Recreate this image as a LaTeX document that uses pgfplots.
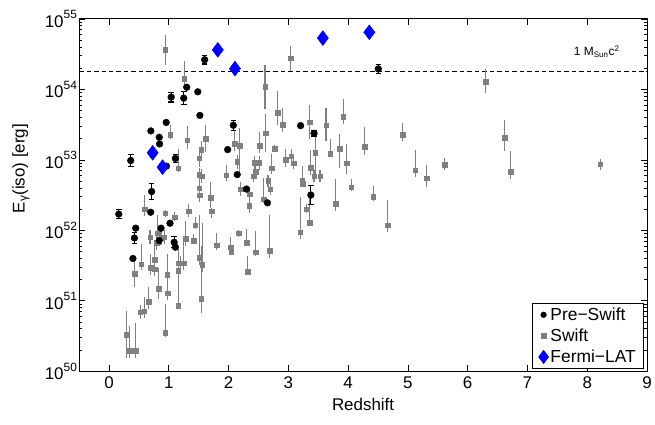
\documentclass[border=0pt]{standalone}
\usepackage{fontspec}
\setmainfont{Liberation Sans}
\usepackage{pgfplots}
\usepackage{pgfplotstable}
\pgfplotsset{compat=1.18}

\newcommand{\tp}[1]{10\raisebox{0.5em}{\fontsize{12}{12}\selectfont #1}}

% z, log10(E), error up/down in dex
\pgfplotstableread{
z     ly      ep    em
1.60  54.42   0.06  0.06
1.30  54.03   0     0
1.485 53.965  0     0
1.04  53.89   0.07  0.07
1.25  53.875  0.09  0.09
1.52  53.63   0     0
0.957 53.53   0     0
0.70  53.41   0     0
0.84  53.32   0     0
0.846 53.225  0     0
0.363 52.99   0.08  0.08
1.11  53.02   0.06  0.06
0.96  52.91   0     0
0.713 52.55   0.11  0.11
1.985 53.145  0     0
2.08  53.49   0.07  0.07
2.145 52.79   0     0
2.30  52.585  0     0
3.205 53.485  0     0
3.43  53.376  0.04  0.04
3.377 52.50   0.13  0.13
4.505 54.29   0.06  0.06
2.65  52.39   0     0
0.163 52.23   0.06  0.06
0.697 52.256  0     0
0.447 52.03   0     0
0.425 51.89   0.08  0.08
0.40  51.60   0     0
1.02  52.10   0     0
0.87  52.03   0     0
0.84  51.855  0     0
1.09  51.83   0.08  0.08
1.11  51.76   0     0
}\preswift

\pgfplotstableread{
z     ly      ep    em
0.94  54.56   0.21  0.21
1.26  54.15   0.25  0.15
2.61  54.035  0.31  0.32
3.04  54.44   0.17  0.18
1.025 53.36   0.14  0.07
1.31  53.28   0.20  0.13
1.62  53.30   0.19  0.19
1.545 53.14   0.12  0.12
1.51  53.02   0.12  0.12
1.51  52.79   0.10  0.10
1.55  52.77   0.10  0.10
1.51  52.60   0.15  0.05
1.52  52.50   0.10  0.10
1.70  52.46   0.22  0.15
1.72  52.27   0.05  0.10
1.33  52.27   0.10  0.08
1.16  52.88   0.27  0.05
0.94  52.24   0.05  0.05
1.10  52.185  0.08  0.05
0.60  52.30   0.20  0.10
2.10  53.23   0.20  0.10
2.19  53.20   0.25  0.40
2.145 52.975  0.10  0.10
1.96  52.78   0.15  0.08
2.20  52.585  0.10  0.10
2.355 52.51   0.10  0.10
2.345 52.35   0.10  0.10
2.43  52.96   0.10  0.10
2.51  52.96   0.10  0.10
2.45  52.83   0.08  0.08
2.42  52.77   0.08  0.08
2.52  53.20   0.20  0.10
2.72  52.88   0.20  0.08
2.66  52.70   0.08  0.08
2.70  52.585  0.08  0.08
2.59  52.44   0.30  0.05
2.62  53.376  0.27  0.27
2.77  53.16   0.05  0.05
2.823 53.67   0.30  0.17
2.906 53.50   0.23  0.10
2.96  53.00   0.15  0.10
3.05  53.05   0.10  0.10
3.09  52.95   0.08  0.08
3.23  52.71   0.20  0.07
3.24  52.66   0.05  0.05
3.20  51.97   0.50  0.10
3.355 52.11   0.35  0.05
3.31  52.30   0.08  0.05
3.37  52.89   0.25  0.10
3.45  53.10   0.30  0.33
3.43  52.77   0.08  0.08
3.53  52.77   0.08  0.08
3.355 53.535  0.24  0.24
3.63  53.49   0.24  0.22
3.70  53.09   0.20  0.05
3.855 53.16   0.20  0.27
3.92  53.61   0.25  0.10
3.98  52.95   0.27  0.15
4.055 52.61   0.12  0.05
3.79  52.38   0.35  0.10
4.28  53.19   0.27  0.12
4.42  52.48   0.15  0.06
4.66  52.07   0.36  0.10
4.91  53.36   0.16  0.09
5.12  52.85   0.29  0.10
5.315 52.74   0.18  0.12
5.615 52.93   0.10  0.08
6.30  54.11   0.18  0.16
6.615 53.31   0.25  0.18
6.72  52.83   0.29  0.10
8.22  52.94   0.07  0.08
2.17  51.96   0.05  0.05
2.30  51.82   0.20  0.05
2.035 51.76   0.15  0.05
2.045 51.70   0.05  0.05
2.32  51.41   0.23  0.05
2.45  51.69   0.30  0.05
2.685 51.71   0.50  0.10
1.80  51.79   0.17  0.07
1.44  52.07   0.12  0.05
1.42  51.85   0.10  0.05
1.285 51.88   0.25  0.10
1.51  51.61   0.60  0.10
1.56  51.51   0.60  0.10
1.545 51.03   0.75  0.20
1.16  51.53   0.20  0.10
1.20  51.53   0.10  0.10
1.245 51.53   0.30  0.10
1.16  51.43   0.15  0.10
1.16  50.93   0.40  0.05
0.686 51.90   0.10  0.10
0.81  51.96   0.25  0.10
0.87  51.89   0.10  0.10
0.925 51.90   0.10  0.10
0.80  51.82   0.10  0.10
0.54  51.52   0.28  0.08
0.425 51.38   0.25  0.19
0.70  51.47   0.20  0.10
0.76  51.445  0.20  0.10
0.76  51.58   0.20  0.10
0.83  51.17   0.30  0.15
0.975 51.37   0.30  0.10
0.98  51.11   0.20  0.10
0.66  50.99   0.20  0.10
0.59  50.85   0.20  0.10
0.52  50.84   0.10  0.10
0.94  50.55   0.40  0.06
0.30  50.52   0.33  0.33
0.345 50.29   0.35  0.10
0.445 50.29   0.40  0.10
}\swift

\pgfplotstableread{
z     ly
1.82  54.56
2.107 54.294
3.577 54.727
4.355 54.81
0.73  53.10
0.896 52.896
}\fermi

\definecolor{swiftgray}{rgb}{0.5,0.5,0.5}

\begin{document}
\begin{tikzpicture}
\begin{axis}[
  name=main,
  scale only axis,
  width=570.5pt, height=354pt,
  ymode=log,
  xmin=-0.5, xmax=9,
  ymin=1e50, ymax=1e55,
  xtick={0,...,9},
  ytick={1e50,1e51,1e52,1e53,1e54,1e55},
  yticklabels={\tp{50},\tp{51},\tp{52},\tp{53},\tp{54},\tp{55}},
  minor ytick={2e50,3e50,4e50,5e50,6e50,7e50,8e50,9e50,
               2e51,3e51,4e51,5e51,6e51,7e51,8e51,9e51,
               2e52,3e52,4e52,5e52,6e52,7e52,8e52,9e52,
               2e53,3e53,4e53,5e53,6e53,7e53,8e53,9e53,
               2e54,3e54,4e54,5e54,6e54,7e54,8e54,9e54},
  xtick pos=both, ytick pos=both,
  tick align=inside,
  major tick length=6pt, minor tick length=3pt,
  axis line style={line width=0.8pt},
  every tick/.style={black, line width=0.6pt},
  /pgf/number format/assume math mode=true,
  tick label style={font=\fontsize{17}{20}\selectfont},
  yticklabel style={inner xsep=2pt},
  xticklabel style={yshift=-2pt},
  label style={font=\fontsize{17}{20}\selectfont},
  xlabel={Redshift},
  xlabel style={at={(axis description cs:0.5,-0.095)}, anchor=center},
  ylabel={E\textsubscript{γ}(iso) [erg]},
  ylabel style={at={(axis description cs:-0.1025,0.575)}, anchor=center},
  legend style={at={(0.995,0.008)}, anchor=south east, draw=black,
    line width=0.8pt, font=\fontsize{17.5}{20}\selectfont,
    inner xsep=6pt, inner ysep=2pt, row sep=3pt},
  legend cell align=left,
]
\addlegendimage{only marks, mark=*, mark size=2.7pt, black}
\addlegendentry{Pre−Swift}
\addlegendimage{only marks, mark=square*, mark size=2.4pt, swiftgray}
\addlegendentry{Swift}
\addlegendimage{only marks, mark=diamond*, mark size=6.5pt, blue}
\addlegendentry{Fermi−LAT}

% 1 M_sun c^2
\addplot[black, line width=1.1pt, dash pattern=on 4.5pt off 3pt, forget plot]
  coordinates {(-0.5,1.8e54) (9,1.8e54)};
\node[anchor=west, font=\fontsize{12}{14}\selectfont]
  at (axis cs:7.72,3.4e54) {1 M\textsubscript{Sun}c\textsuperscript{2}};

\addplot[only marks, mark=square*, mark size=2.3pt, swiftgray, forget plot,
  error bars/.cd, y dir=both, y explicit,
  error bar style={swiftgray, line width=1.1pt}, error mark=none]
  table[x=z, y expr=10^(\thisrow{ly}),
    y error plus expr=10^(\thisrow{ly}+\thisrow{ep})-10^(\thisrow{ly}),
    y error minus expr=10^(\thisrow{ly})-10^(\thisrow{ly}-\thisrow{em})] {\swift};

\addplot[only marks, mark=*, mark size=3.4pt, black, forget plot,
  error bars/.cd, y dir=both, y explicit,
  error bar style={black, line width=1.1pt},
  error mark options={black, mark size=2.8pt, line width=1.1pt, rotate=90}]
  table[x=z, y expr=10^(\thisrow{ly}),
    y error plus expr=10^(\thisrow{ly}+\thisrow{ep})-10^(\thisrow{ly}),
    y error minus expr=10^(\thisrow{ly})-10^(\thisrow{ly}-\thisrow{em})] {\preswift};

\addplot[only marks, mark=diamond*, mark size=7.5pt, blue, forget plot]
  table[x=z, y expr=10^(\thisrow{ly})] {\fermi};
\end{axis}
\path ([xshift=-79.5pt,yshift=-53pt]main.south west)
  rectangle ([xshift=5pt,yshift=19pt]main.north east);
\end{tikzpicture}
\end{document}
